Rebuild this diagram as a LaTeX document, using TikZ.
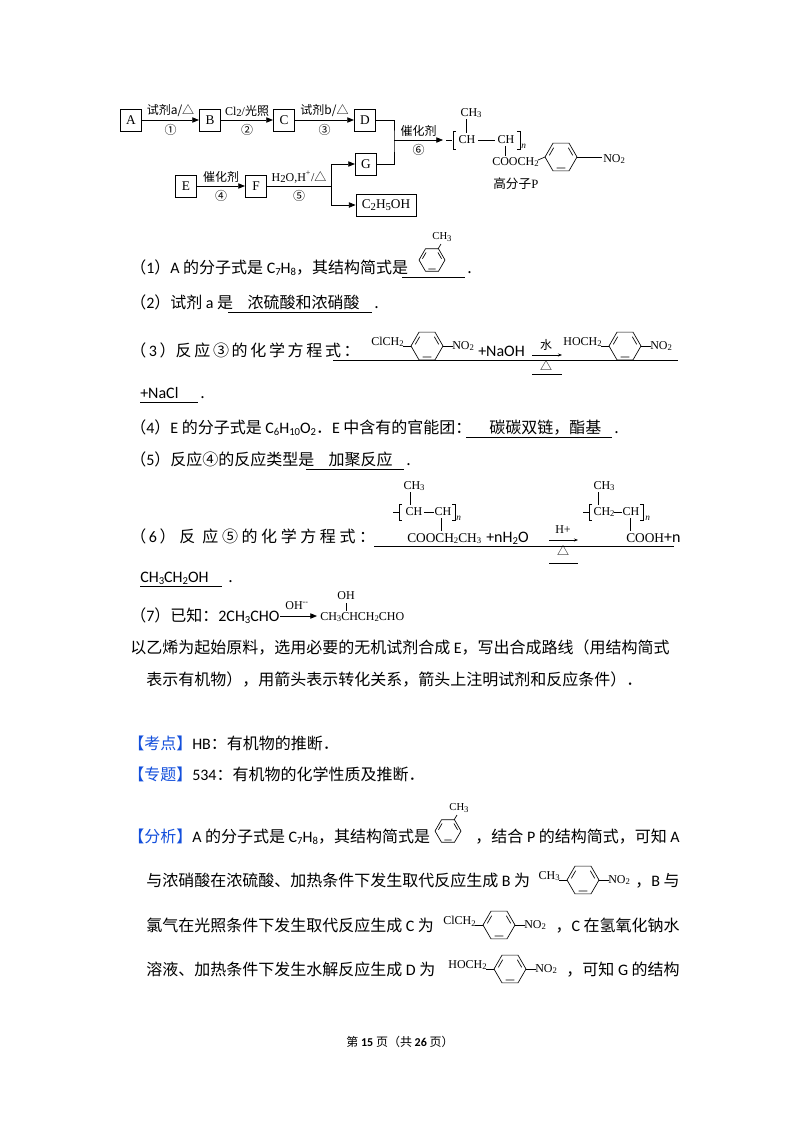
\documentclass[tikz,border=0pt]{standalone}
\usepackage{fontspec}
\setmainfont{Noto Sans CJK SC}
\newfontfamily\ser{Liberation Serif}
\newfontfamily\lat{Carlito}
\usetikzlibrary{arrows.meta}
\newcommand\sub[1]{\raisebox{-0.35ex}{\fontsize{8}{8}\selectfont #1}}
\newcommand\ssub[1]{\raisebox{-0.3ex}{\fontsize{6.5}{6.5}\selectfont #1}}
\newcommand\ring[3]{\begin{scope}[shift={(#1,#2)}]
 \draw[line width=0.5pt] (0:#3)--(60:#3)--(120:#3)--(180:#3)--(240:#3)--(300:#3)--cycle;
 \draw[line width=0.5pt] (68:0.74*#3)--(112:0.74*#3) (188:0.74*#3)--(232:0.74*#3) (308:0.74*#3)--(352:0.74*#3);
 \end{scope}}
% arene: x y r leftlabel
\newcommand\arene[4]{%
 \node[chem,anchor=east] at ({#1-#3-7},{#2-4}) {#4};
 \draw[line width=0.5pt] ({#1-#3-8},{#2})--({#1-#3},{#2});
 \ring{#1}{#2}{#3}
 \draw[line width=0.5pt] ({#1+#3},{#2})--({#1+#3+10},{#2});
 \node[chem,anchor=west] at ({#1+#3+9},{#2}) {NO\ssub{2}};}
\begin{document}
\begin{tikzpicture}[x=0.75pt,y=-0.75pt,
 chem/.style={font=\ser\fontsize{9}{10}\selectfont,inner sep=0pt},
 box/.style={draw,line width=0.6pt,minimum width=16pt,minimum height=16.5pt,inner sep=0pt,font=\ser\fontsize{10}{10}\selectfont},
 lab/.style={font=\fontsize{9}{9}\selectfont,inner sep=0pt},
 arr/.style={-{Triangle[length=5pt,width=4pt]},line width=0.6pt},
 sarr/.style={-{Stealth[length=3pt]},line width=0.6pt},
 txt/.style={anchor=base west,inner sep=0pt,font=\fontsize{12}{14}\selectfont},
 txe/.style={anchor=base east,inner sep=0pt,font=\fontsize{12}{14}\selectfont},
 ul/.style={line width=0.6pt}]
\useasboundingbox (0,0) rectangle (800,1132);
\fill[white] (0,0) rectangle (800,1132);
% ---------- top diagram
\node[box] (A) at (131,120) {A};
\node[box] (B) at (210,120) {B};
\node[box] (C) at (284,120) {C};
\node[box] (D) at (365,120) {D};
\node[box] (E) at (186,186) {E};
\node[box] (F) at (256,186) {F};
\node[box] (G) at (366,164) {G};
\node[box,minimum width=45pt] (H) at (386,205) {C\sub{2}H\sub{5}OH};
\draw[arr] (A) -- (B) node[lab,midway,above=2pt] {试剂a/△} node[lab,midway,below=3pt] {①};
\draw[arr] (B) -- (C) node[lab,midway,above=2pt] {{\ser Cl\sub{2}/}光照} node[lab,midway,below=3pt] {②};
\draw[arr] (C) -- (D) node[lab,midway,above=2pt] {试剂b/△} node[lab,midway,below=3pt] {③};
\draw[arr] (E) -- (F) node[lab,midway,above=2pt] {催化剂} node[lab,midway,below=3pt] {④};
\coordinate (fj) at (331,186);
\draw[line width=0.6pt] (F) -- (fj) node[lab,midway,above=2pt] {{\ser H\sub{2}O,H\textsuperscript{+}/}△} node[lab,midway,below=3pt] {⑤};
\draw[arr] (fj) |- (G);
\draw[arr] (fj) |- (H);
\coordinate (dj) at (394,140);
\draw[line width=0.6pt] (D.east) -| (dj) |- (G.east);
\coordinate (pp) at (443,140);
\draw[arr] (dj) -- (pp) node[lab,midway,above=2pt] {催化剂} node[lab,midway,below=3pt] {⑥};
% polymer P
\draw[line width=0.5pt] (446,140)--(452,140) (456,131)--(453,131)--(453,149)--(456,149);
\node[chem] at (467,140) {CH};
\draw[line width=0.5pt] (478,140)--(495,140);
\node[chem] at (506,140) {CH};
\draw[line width=0.5pt] (517,131)--(520,131)--(520,149)--(517,149);
\node[chem,anchor=west,font=\ser\itshape\fontsize{7}{7}\selectfont] at (521,146) {n};
\node[chem] at (471,113) {CH\ssub{3}};
\draw[line width=0.5pt] (466,119)--(466,133) (505,146)--(505,156);
\node[chem,anchor=west] at (492,162) {COOCH\ssub{2}};
\draw[line width=0.5pt] (538,160)--(545,157);
\ring{561}{157}{16}
\draw[line width=0.5pt] (577,157)--(602,157);
\node[chem,anchor=west] at (603,159) {NO\ssub{2}};
\node[lab,anchor=west,font=\fontsize{9.5}{10}\selectfont] at (493,184) {高分子{\ser P}};
% ---------- (1)
\node[txt] at (130,273) {（{\lat 1}）{\lat A} 的分子式是 {\lat C\sub{7}H\sub{8}}，其结构简式是};
\draw[ul] (402,277)--(465,277);
\node[txt] at (467,273) {.};
\ring{432}{260}{13}
\draw[line width=0.5pt] (438,249)--(441,244);
\node[chem,font=\ser\fontsize{8}{8}\selectfont] at (442,237) {CH\ssub{3}};
% (2)
\node[txt] at (130,308) {（{\lat 2}）试剂 {\lat a} 是\ \ \ \ 浓硫酸和浓硝酸};
\draw[ul] (228,312)--(372,312);
\node[txt] at (374,308) {.};
% (3)
\node[txt] at (130,356) {（\,{\lat 3}\,）反\,应\,③\,的\,化\,学\,方\,程\,式\,：};
\draw[ul] (333,360)--(678,360);
\arene{427}{346}{16}{ClCH\ssub{2}}
\node[txt,font=\lat\fontsize{12}{12}\selectfont] at (478,356) {+NaOH};
\draw[sarr] (532,355)--(562,355);
\node[lab] at (546,345) {水};
\node[lab] at (546,366) {△};
\draw[ul] (532,374)--(562,374);
\arene{625}{346}{16}{HOCH\ssub{2}}
\node[txt,font=\lat\fontsize{12}{12}\selectfont] at (140,398) {+NaCl};
\draw[ul] (140,402)--(198,402);
\node[txt] at (200,398) {.};
% (4)
\node[txt] at (130,433) {（{\lat 4}）{\lat E} 的分子式是 {\lat C\sub{6}H\sub{10}O\sub{2}}．{\lat E} 中含有的官能团：\ \ \ \ \ 碳碳双链，酯基};
\draw[ul] (466,437)--(612,437);
\node[txt] at (614,433) {.};
% (5)
\node[txt] at (130,465) {（{\lat 5}）反应④的反应类型是\ \ \ \ 加聚反应};
\draw[ul] (306,469)--(404,469);
\node[txt] at (406,465) {.};
% (6)
\node[txt] at (130,542) {（\,{\lat 6}\,）\ 反\ \ 应\ ⑤\ 的\ 化\ 学\ 方\ 程\ 式\ ：};
\draw[ul] (374,546)--(674,546);
\draw[line width=0.5pt] (393,512)--(399,512) (402,504)--(399,504)--(399,520)--(402,520);
\node[chem] at (414,512) {CH};
\draw[line width=0.5pt] (424,512)--(434,512);
\node[chem] at (443,512) {CH};
\draw[line width=0.5pt] (452,504)--(455,504)--(455,520)--(452,520);
\node[chem,anchor=west,font=\ser\itshape\fontsize{7}{7}\selectfont] at (456,518) {n};
\node[chem] at (414,486) {CH\ssub{3}};
\draw[line width=0.5pt] (410,492)--(410,505) (441,518)--(441,531);
\node[chem,anchor=base west,font=\ser\fontsize{10}{10}\selectfont] at (407,542) {COOCH\ssub{2}CH\ssub{3}};
\node[txt,font=\lat\fontsize{12}{12}\selectfont] at (486,542) {+nH\sub{2}O};
\draw[sarr] (549,540)--(578,540);
\node[chem] at (563,530) {H+};
\node[lab] at (563,551) {△};
\draw[ul] (549,563)--(578,563);
\draw[line width=0.5pt] (583,512)--(589,512) (592,504)--(589,504)--(589,520)--(592,520);
\node[chem] at (604,512) {CH\ssub{2}};
\draw[line width=0.5pt] (614,512)--(622,512);
\node[chem] at (631,512) {CH};
\draw[line width=0.5pt] (640,504)--(643,504)--(643,520)--(640,520);
\node[chem,anchor=west,font=\ser\itshape\fontsize{7}{7}\selectfont] at (645,518) {n};
\node[chem] at (604,486) {CH\ssub{3}};
\draw[line width=0.5pt] (598,492)--(598,505) (630,518)--(630,531);
\node[chem,anchor=base west,font=\ser\fontsize{10}{10}\selectfont] at (626,542) {COOH{\lat\fontsize{12}{12}\selectfont+n}};
\node[txt,font=\lat\fontsize{12}{12}\selectfont] at (140,582) {CH\sub{3}CH\sub{2}OH};
\draw[ul] (140,586)--(222,586);
\node[txt] at (228,582) {.};
% (7)
\node[txt] at (130,621) {（{\lat 7}）已知：{\lat 2CH\sub{3}CHO}};
\draw[arr] (280,616)--(317,616);
\node[chem] at (297,606) {OH\textsuperscript{--}};
\node[chem,anchor=base west] at (320,620) {CH\ssub{3}CHCH\ssub{2}CHO};
\draw[line width=0.5pt] (346,603)--(346,611);
\node[chem] at (346,596) {OH};
\node[txt] at (130,653) {以乙烯为起始原料，选用必要的无机试剂合成 {\lat E}，写出合成路线（用结构简式};
\node[txt] at (146,685) {表示有机物），用箭头表示转化关系，箭头上注明试剂和反应条件）．};
% 考点
\node[txt] at (128,749) {\textcolor[RGB]{20,80,220}{【考点】}{\lat HB}：有机物的推断．};
\node[txt] at (128,780) {\textcolor[RGB]{20,80,220}{【专题】}{\lat 534}：有机物的化学性质及推断．};
% 分析
\node[txt] at (128,842) {\textcolor[RGB]{20,80,220}{【分析】}{\lat A} 的分子式是 {\lat C\sub{7}H\sub{8}}，其结构简式是};
\ring{448}{831}{13}
\draw[line width=0.5pt] (454,820)--(457,815);
\node[chem,font=\ser\fontsize{8}{8}\selectfont] at (459,808) {CH\ssub{3}};
\node[txe] at (680,842) {，结合 {\lat P} 的结构简式，可知 {\lat A}};
\node[txt] at (146,886) {与浓硝酸在浓硫酸、加热条件下发生取代反应生成 {\lat B} 为};
\arene{583}{880}{16}{CH\ssub{3}}
\node[txe] at (680,886) {，{\lat B} 与};
\node[txt] at (146,931) {氯气在光照条件下发生取代反应生成 {\lat C} 为};
\arene{499}{925}{16}{ClCH\ssub{2}}
\node[txe] at (680,931) {，{\lat C} 在氢氧化钠水};
\node[txt] at (146,975) {溶液、加热条件下发生水解反应生成 {\lat D} 为};
\arene{510}{969}{16}{HOCH\ssub{2}}
\node[txe] at (680,975) {，可知 {\lat G} 的结构};
\node[inner sep=0pt,font=\fontsize{9}{10}\selectfont] at (400,1042) {第 {\lat\bfseries 15} 页（共 {\lat\bfseries 26} 页）};
\end{tikzpicture}
\end{document}
